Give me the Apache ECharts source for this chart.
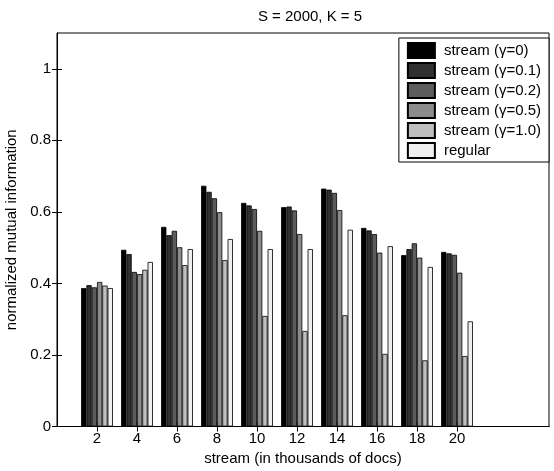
<!DOCTYPE html>
<html>
<head>
<meta charset="utf-8">
<script src="https://cdn.jsdelivr.net/npm/echarts@6/dist/echarts.min.js"></script>
<style>
	html, body { margin: 0; padding: 0; background: #fff; }
	#chart { width: 554px; height: 471px; }
</style>
</head>
<body>
<div id="chart"></div>
<script>
'use strict';

// stream size (thousands of docs)
var streamSizes = [2, 4, 6, 8, 10, 12, 14, 16, 18, 20];
var yTicks = [0, 0.2, 0.4, 0.6, 0.8, 1];

var seriesNames = ['stream (γ=0)', 'stream (γ=0.1)', 'stream (γ=0.2)', 'stream (γ=0.5)', 'stream (γ=1.0)', 'regular'];
var gamma0 = [0.387, 0.494, 0.558, 0.673, 0.625, 0.613, 0.665, 0.555, 0.479, 0.488];
var gamma01 = [0.395, 0.482, 0.535, 0.656, 0.618, 0.615, 0.662, 0.548, 0.496, 0.484];
var gamma02 = [0.389, 0.432, 0.547, 0.638, 0.608, 0.604, 0.653, 0.538, 0.512, 0.480];
var gamma05 = [0.404, 0.426, 0.501, 0.599, 0.547, 0.538, 0.605, 0.486, 0.472, 0.430];
var gamma10 = [0.394, 0.438, 0.451, 0.465, 0.309, 0.267, 0.311, 0.203, 0.185, 0.197];
var regular = [0.387, 0.460, 0.496, 0.524, 0.496, 0.496, 0.550, 0.504, 0.446, 0.294];

var colors = ['#000000', '#303030', '#5c5c5c', '#8c8c8c', '#bebebe', '#f0f0f0'];
var allValues = [gamma0, gamma01, gamma02, gamma05, gamma10, regular];

var font = 'Liberation Sans, Arial, sans-serif';

var myChart = echarts.init(document.getElementById('chart'));

var series = [];
for (var i = 0; i < seriesNames.length; i++) {
	var d = [];
	for (var j = 0; j < streamSizes.length; j++) {
		d.push([streamSizes[j], allValues[i][j]]);
	}
	series.push({
		name: seriesNames[i],
		type: 'bar',
		xAxisIndex: 0,
		yAxisIndex: 0,
		barWidth: 5.3,
		barGap: '0%',
		itemStyle: {
			color: colors[i],
			borderColor: '#000',
			borderWidth: 0.8
		},
		emphasis: { disabled: true },
		data: d
	});
}

var tickLine = { color: '#000', width: 1 };

myChart.setOption({
	animation: false,
	textStyle: { fontFamily: font },
	title: {
		text: 'S = 2000, K = 5',
		left: 305,
		textAlign: 'center',
		top: 4,
		textStyle: { fontFamily: font, fontSize: 15, fontWeight: 'normal', color: '#000' }
	},
	legend: {
		orient: 'vertical',
		right: 5,
		top: 38,
		itemWidth: 27,
		itemHeight: 15,
		itemGap: 3,
		padding: [4, 8, 3, 8],
		backgroundColor: '#fff',
		borderColor: '#000',
		borderWidth: 1,
		borderRadius: 0,
		icon: 'rect',
		textStyle: { fontFamily: font, fontSize: 15, color: '#000', padding: [0, 0, 0, 4] },
		data: seriesNames
	},
	grid: {
		left: 57,
		right: 5,
		top: 33,
		bottom: 44.5,
		outerBoundsMode: 'none',
		show: true,
		borderColor: '#000',
		borderWidth: 1
	},
	xAxis: [{
		type: 'value',
		position: 'bottom',
		min: 0,
		max: 24.6,
		name: 'stream (in thousands of docs)',
		nameLocation: 'middle',
		nameGap: 18,
		nameTextStyle: { fontFamily: font, fontSize: 15, color: '#000' },
		axisLine: { show: true, lineStyle: { color: '#000' } },
		axisTick: { inside: true, length: 5, customValues: streamSizes, lineStyle: tickLine },
		axisLabel: { customValues: streamSizes, fontFamily: font, fontSize: 15, color: '#000', margin: 5 },
		splitLine: { show: false }
	}, {
		type: 'value',
		position: 'top',
		min: 0,
		max: 24.6,
		axisLine: { show: true, lineStyle: { color: '#000' } },
		axisTick: { inside: true, length: 5, customValues: streamSizes, lineStyle: tickLine },
		axisLabel: { show: false },
		splitLine: { show: false }
	}],
	yAxis: [{
		type: 'value',
		position: 'left',
		min: 0,
		max: 1.1,
		name: 'normalized mutual information',
		nameLocation: 'middle',
		nameGap: 32,
		nameTextStyle: { fontFamily: font, fontSize: 15, color: '#000' },
		axisLine: { show: true, lineStyle: { color: '#000' } },
		axisTick: { show: true, inside: true, length: 5, customValues: yTicks, lineStyle: tickLine },
		axisLabel: { customValues: yTicks, fontFamily: font, fontSize: 15, color: '#000', margin: 6 },
		splitLine: { show: false }
	}, {
		type: 'value',
		position: 'right',
		min: 0,
		max: 1.1,
		axisLine: { show: true, lineStyle: { color: '#000' } },
		axisTick: { show: true, inside: true, length: 5, customValues: yTicks, lineStyle: tickLine },
		axisLabel: { show: false },
		splitLine: { show: false }
	}],
	series: series
});
</script>
</body>
</html>
